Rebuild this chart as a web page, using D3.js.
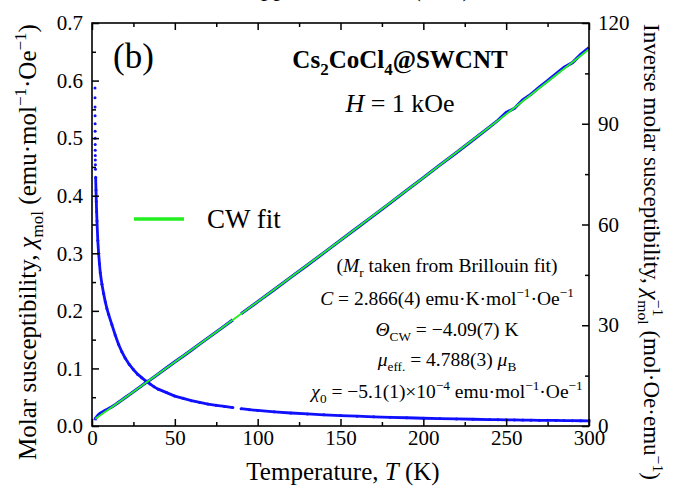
<!DOCTYPE html>
<html>
<head>
<meta charset="utf-8">
<script src="https://cdn.jsdelivr.net/npm/d3@7"></script>
<style>
  body { margin: 0; background: #fff; }
  text { font-family: "Liberation Serif", "Times New Roman", serif; fill: #000; }
</style>
</head>
<body>
<svg id="chart" width="691" height="498"></svg>
<script>
var width = 691;
var height = 498;
var serif = '"Liberation Serif", "Times New Roman", serif';

var tempK = [1.8, 1.82, 1.84, 1.86, 1.88, 1.9, 1.92, 1.94, 1.96, 1.98, 2.0, 2.05, 2.1,
  2.2, 2.4, 2.6, 2.8, 3.0, 3.5, 4.0, 4.5, 5.0, 6.0, 7.0, 8.0, 9.0, 10, 12, 14, 16, 18, 20,
  22.5, 25, 27.5, 30, 32.5, 35, 37.5, 40, 45, 50, 55, 60, 65, 70, 75, 80, 85, 87.5,
  90, 95, 100, 110, 120, 130, 140, 150, 160, 170, 180, 190, 200, 210, 220, 230, 240,
  245, 250, 255, 260, 265, 270, 275, 280, 285, 290, 295, 300];
var chiMol = [0.587, 0.570, 0.554, 0.539, 0.525, 0.512, 0.500, 0.489, 0.479, 0.470, 0.462, 0.454, 0.446,
  0.432, 0.410, 0.390, 0.372, 0.356, 0.322, 0.300, 0.282, 0.266, 0.246, 0.230, 0.216, 0.204, 0.194, 0.176, 0.158, 0.142, 0.129, 0.118,
  0.107, 0.098, 0.090, 0.084, 0.078, 0.073, 0.068, 0.064, 0.058, 0.052, 0.048, 0.044, 0.041, 0.038, 0.036, 0.034, 0.032, null,
  0.030, 0.0284, 0.027, 0.0246, 0.0226, 0.0209, 0.0194, 0.0181, 0.0170, 0.0160, 0.0151, 0.0143, 0.0135, 0.0129, 0.0123, 0.0117, 0.0112,
  0.0110, 0.0108, 0.0106, 0.0103, 0.0101, 0.0099, 0.0098, 0.0096, 0.0094, 0.0092, 0.0091, 0.0089];
var invChi = [1.70, 1.75, 1.81, 1.86, 1.90, 1.95, 2.00, 2.04, 2.09, 2.13, 2.16, 2.20, 2.24,
  2.31, 2.44, 2.56, 2.69, 2.81, 3.11, 3.33, 3.55, 3.76, 4.07, 4.35, 4.63, 4.90, 5.15, 5.68, 6.33, 7.03, 7.74, 8.44,
  9.32, 10.2, 11.1, 12.0, 12.9, 13.7, 14.6, 15.5, 17.3, 19.1, 20.8, 22.6, 24.4, 26.2, 28.0, 29.8, 31.6, null,
  33.4, 35.2, 37.0, 40.6, 44.3, 47.9, 51.6, 55.3, 59.0, 62.7, 66.4, 70.2, 73.9, 77.7, 81.4, 85.2, 89.0,
  91.0, 93.3, 94.6, 97.1, 98.8, 100.9, 102.8, 104.8, 106.8, 108.2, 110.6, 112.6];

// Curie-Weiss fit curve
var fitTemp = [2, 10, 25, 50, 75, 100, 150, 200, 250, 300];
var fitInv = [2.13, 4.93, 10.2, 19.06, 27.99, 37.01, 55.28, 73.89, 92.86, 112.17];

var xTicks = [0, 50, 100, 150, 200, 250, 300];
var xMinor = [25, 75, 125, 175, 225, 275];
var leftTicks = [0, 0.1, 0.2, 0.3, 0.4, 0.5, 0.6, 0.7];
var leftMinor = [0.05, 0.15, 0.25, 0.35, 0.45, 0.55, 0.65];
var rightTicks = [0, 30, 60, 90, 120];
var rightMinor = [15, 45, 75, 105];

var plot = { left: 92, right: 589, top: 23, bottom: 426 };
var blue = "#1010ff";
var green = "#22ee22";

var svg = d3.select("#chart");
svg.append("rect").attr("width", width).attr("height", height).attr("fill", "#fff");

var x = d3.scaleLinear().domain([0, 300]).range([plot.left, plot.right]);
var yL = d3.scaleLinear().domain([0, 0.7]).range([plot.bottom, plot.top]);
var yR = d3.scaleLinear().domain([0, 120]).range([plot.bottom, plot.top]);

var chiData = tempK.map(function (t, i) { return { t: t, v: chiMol[i] }; });
var invData = tempK.map(function (t, i) { return { t: t, v: invChi[i] }; });
var fitData = fitTemp.map(function (t, i) { return { t: t, v: fitInv[i] }; });

// blue measured data
var chiLine = d3.line()
  .defined(function (d) { return d.v != null && d.t >= 2.2; })
  .x(function (d) { return x(d.t); })
  .y(function (d) { return yL(d.v); });
var invLine = d3.line()
  .defined(function (d) { return d.v != null; })
  .x(function (d) { return x(d.t); })
  .y(function (d) { return yR(d.v); });

svg.append("path").attr("d", chiLine(chiData))
  .attr("fill", "none").attr("stroke", blue).attr("stroke-width", 2.8);
svg.append("path").attr("d", invLine(invData))
  .attr("fill", "none").attr("stroke", blue).attr("stroke-width", 3.2);

svg.append("g").selectAll("circle")
  .data(chiData.filter(function (d) { return d.v != null; }))
  .enter().append("circle")
  .attr("cx", function (d) { return x(d.t); })
  .attr("cy", function (d) { return yL(d.v); })
  .attr("r", 1.5)
  .attr("fill", blue);

// green CW fit
var fitLine = d3.line()
  .x(function (d) { return x(d.t); })
  .y(function (d) { return yR(d.v); });
svg.append("path").attr("d", fitLine(fitData))
  .attr("fill", "none").attr("stroke", green).attr("stroke-width", 1.9);

// axes
function addAxis(axis, tx, ty, size) {
  var g = svg.append("g")
    .attr("transform", "translate(" + tx + "," + ty + ")")
    .call(axis)
    .attr("font-family", serif)
    .attr("font-size", size || 21);
  g.select(".domain").remove();
  g.selectAll("line").attr("stroke-width", 1.5);
  return g;
}

addAxis(d3.axisBottom(x).tickValues(xTicks).tickSize(-7).tickPadding(4).tickFormat(d3.format("d")), 0, plot.bottom);
addAxis(d3.axisBottom(x).tickValues(xMinor).tickSize(-4).tickFormat(""), 0, plot.bottom);
addAxis(d3.axisTop(x).tickValues(xTicks).tickSize(-7).tickFormat(""), 0, plot.top);
addAxis(d3.axisTop(x).tickValues(xMinor).tickSize(-4).tickFormat(""), 0, plot.top);
addAxis(d3.axisLeft(yL).tickValues(leftTicks).tickSize(-7).tickPadding(9).tickFormat(d3.format(".1f")), plot.left, 0);
addAxis(d3.axisLeft(yL).tickValues(leftMinor).tickSize(-4).tickFormat(""), plot.left, 0);
addAxis(d3.axisRight(yR).tickValues(rightTicks).tickSize(-7).tickPadding(9).tickFormat(d3.format("d")), plot.right, 0);
addAxis(d3.axisRight(yR).tickValues(rightMinor).tickSize(-4).tickFormat(""), plot.right, 0);

svg.append("rect")
  .attr("x", plot.left).attr("y", plot.top)
  .attr("width", plot.right - plot.left).attr("height", plot.bottom - plot.top)
  .attr("fill", "none").attr("stroke", "#000").attr("stroke-width", 1.6);

// text with sub/superscripts; dx lets a subscript sit under a superscript
function rich(t, parts, size) {
  var shift = 0;
  parts.forEach(function (p) {
    var target = p.sub ? 0.28 * size : (p.sup ? -0.4 * size : 0);
    var ts = t.append("tspan").text(p.t).attr("dy", target - shift);
    shift = target;
    if (p.dx) ts.attr("dx", p.dx);
    if (p.sub || p.sup) ts.attr("font-size", size * 0.68);
    if (p.i) ts.attr("font-style", "italic");
  });
  return t;
}

function label(px, py, size, anchor, parts, rotate) {
  var t = svg.append("text")
    .attr("transform", "translate(" + px + "," + py + ")" + (rotate ? " rotate(" + rotate + ")" : ""))
    .attr("font-size", size)
    .attr("text-anchor", anchor);
  return rich(t, parts, size);
}

// axis titles
label(343, 480, 25, "middle", [{ t: "Temperature, " }, { t: "T", i: true }, { t: " (K)" }]);
label(36, 242, 25, "middle", [
  { t: "Molar susceptibility, " }, { t: "\u03c7", i: true }, { t: "mol", sub: true },
  { t: " (emu\u00b7mol" }, { t: "\u22121", sup: true }, { t: "\u00b7Oe" }, { t: "\u22121", sup: true }, { t: ")" }
], -90);
label(644, 252, 23, "middle", [
  { t: "Inverse molar susceptibility, " }, { t: "\u03c7", i: true }, { t: "\u22121", sup: true },
  { t: "mol", sub: true, dx: -16 }, { t: " (mol\u00b7Oe\u00b7emu" }, { t: "\u22121", sup: true }, { t: ")" }
], 90);

// cropped title of the panel above
label(243, -4, 25, "start", [{ t: "Applied field, " }, { t: "H", i: true }, { t: " (kOe)" }]);

// panel annotations
label(113, 68, 35, "start", [{ t: "(b)" }]);
label(400, 68, 25, "middle", [
  { t: "Cs" }, { t: "2", sub: true }, { t: "CoCl" }, { t: "4", sub: true }, { t: "@SWCNT" }
]).attr("font-weight", "bold");
label(400, 112, 26, "middle", [{ t: "H", i: true }, { t: " = 1 kOe" }]);

// legend
svg.append("line")
  .attr("x1", 134).attr("x2", 184).attr("y1", 219).attr("y2", 219)
  .attr("stroke", green).attr("stroke-width", 3.5);
label(207, 228, 27, "start", [{ t: "CW fit" }]);

// fit parameters
var fs = 19.5;
label(447, 272, fs, "middle", [{ t: "(" }, { t: "M", i: true }, { t: "r", sub: true }, { t: " taken from Brillouin fit)" }]);
label(447, 305, fs, "middle", [
  { t: "C", i: true }, { t: " = 2.866(4) emu\u00b7K\u00b7mol" }, { t: "\u22121", sup: true },
  { t: "\u00b7Oe" }, { t: "\u22121", sup: true }
]);
label(447, 336, fs, "middle", [{ t: "\u0398", i: true }, { t: "CW", sub: true }, { t: " = \u22124.09(7) K" }]);
label(447, 366, fs, "middle", [
  { t: "\u03bc", i: true }, { t: "eff.", sub: true }, { t: " = 4.788(3) " }, { t: "\u03bc", i: true }, { t: "B", sub: true }
]);
label(447, 398, fs, "middle", [
  { t: "\u03c7", i: true }, { t: "0", sub: true }, { t: " = \u22125.1(1)\u00d710" }, { t: "\u22124", sup: true },
  { t: " emu\u00b7mol" }, { t: "\u22121", sup: true }, { t: "\u00b7Oe" }, { t: "\u22121", sup: true }
]);
</script>
</body>
</html>
